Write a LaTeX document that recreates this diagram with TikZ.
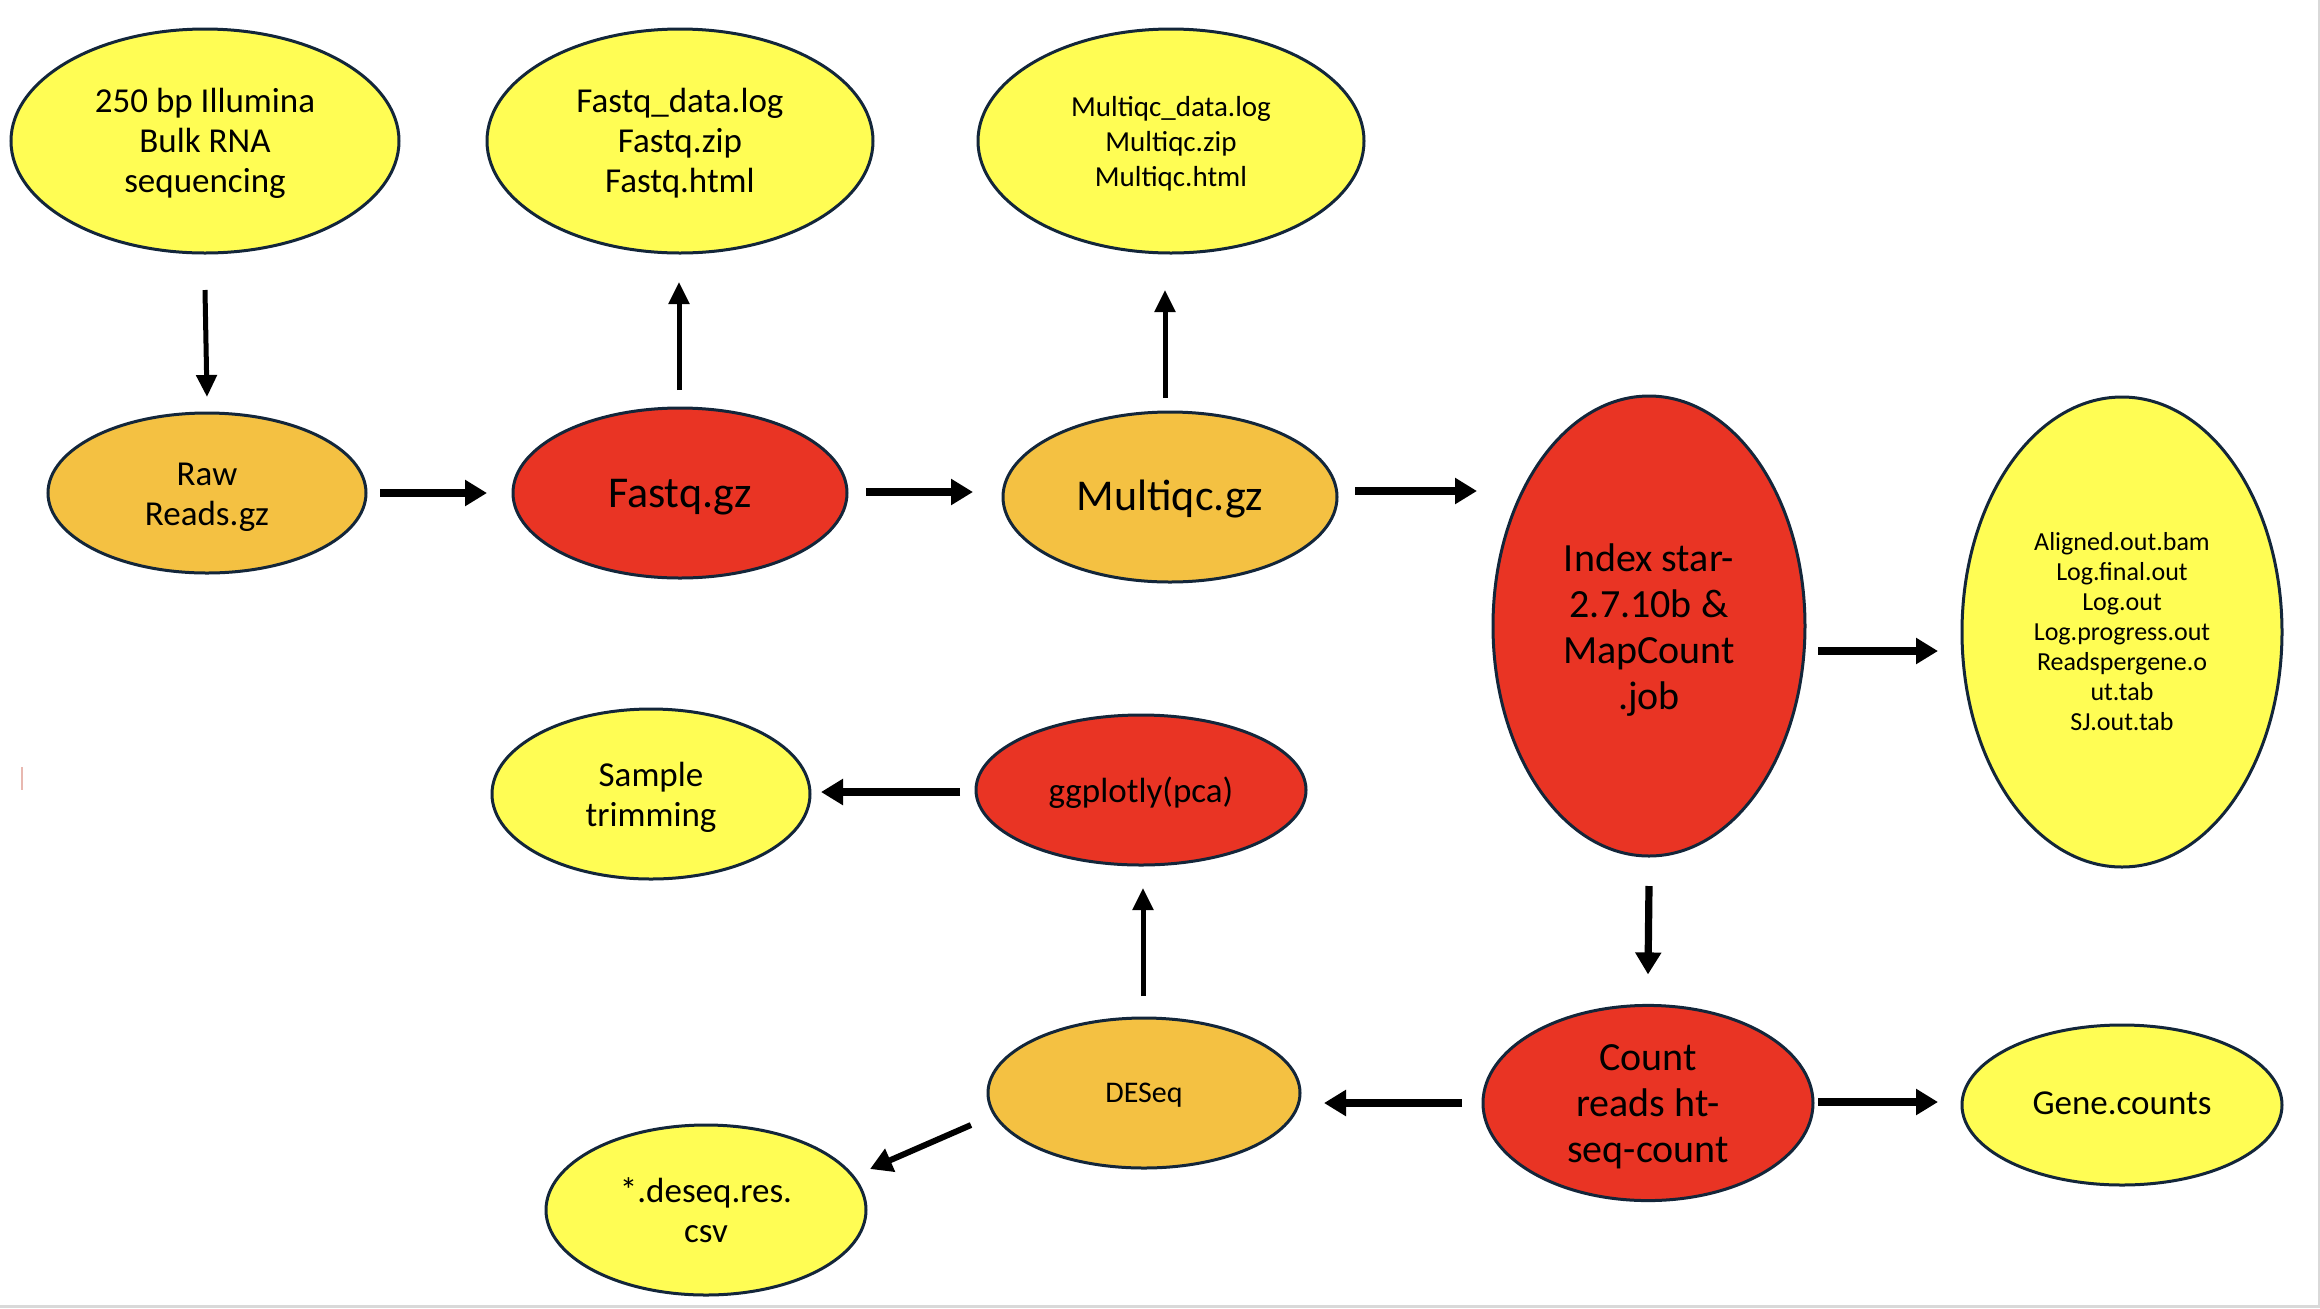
\documentclass[tikz,border=0pt]{standalone}
\usepackage{fontspec}
\setmainfont{Carlito}
\usetikzlibrary{shapes.geometric,arrows.meta}
\definecolor{cyel}{HTML}{FFFD54}
\definecolor{corg}{HTML}{F4C142}
\definecolor{cred}{HTML}{E93424}
\definecolor{cline}{HTML}{13263A}
\definecolor{cgrey}{HTML}{D9D9D9}
\definecolor{cpink}{HTML}{E8B8B0}
\newcommand\lbl[2][2pt]{\raisebox{-#1}[\height][\depth]{\begin{tabular}{@{}c@{}}#2\end{tabular}}}
\tikzset{
  blob/.style={ellipse, draw=cline, line width=1.5pt, inner sep=0pt, outer sep=0pt, text=black},
  yel/.style={blob, fill=cyel},
  org/.style={blob, fill=corg},
  red/.style={blob, fill=cred},
  fa/.style={font=\fontsize{17.5pt}{20pt}\selectfont},
  fb/.style={font=\fontsize{22pt}{26pt}\selectfont},
  fc/.style={font=\fontsize{14.5pt}{17.5pt}\selectfont},
  fd/.style={font=\fontsize{20pt}{23pt}\selectfont},
  fe/.style={font=\fontsize{13pt}{15pt}\selectfont},
  arr/.style={line width=3.6pt, -{Triangle[length=11pt,width=12.5pt]}},
  arrthin/.style={line width=2.5pt, -{Triangle[length=11pt,width=10pt]}},
}
\begin{document}
\begin{tikzpicture}[x=0.5pt,y=-0.5pt]
\useasboundingbox (0,0) rectangle (2320,1308);
\fill[white] (0,0) rectangle (2320,1308);
% frame remnants
\fill[cgrey] (0,1305) rectangle (2320,1308);
\fill[cgrey] (2318,0) rectangle (2320,1308);
\fill[cpink] (21,767) rectangle (23,790);

% nodes
\node[yel, fa, minimum width=194pt, minimum height=112pt] (ill) at (205,141) {\lbl[1.5pt]{250 bp Illumina\\Bulk RNA\\sequencing}};
\node[yel, fa, minimum width=193pt, minimum height=112pt] (fqo) at (680,141) {\lbl[1.5pt]{Fastq\_data.log\\Fastq.zip\\Fastq.html}};
\node[yel, fc, minimum width=193pt, minimum height=112pt] (mqo) at (1171,141) {\lbl[1.5pt]{Multiqc\_data.log\\Multiqc.zip\\Multiqc.html}};
\node[org, fa, minimum width=159pt, minimum height=80pt] (raw) at (207,493) {\lbl[2.2pt]{Raw\\Reads.gz}};
\node[red, fb, minimum width=167pt, minimum height=85pt] (fq) at (680,493) {\lbl[2.2pt]{Fastq.gz}};
\node[org, fb, minimum width=167pt, minimum height=85pt] (mq) at (1170,497) {\lbl[1.5pt]{Multiqc.gz}};
\node[red, fd, minimum width=156pt, minimum height=230pt] (idx) at (1649,626) {\lbl[2.6pt]{Index star-\\2.7.10b \&\\MapCount\\.job}};
\node[yel, fe, minimum width=160pt, minimum height=235pt] (aln) at (2122,632) {\lbl[1.4pt]{Aligned.out.bam\\Log.final.out\\Log.out\\Log.progress.out\\Readspergene.o\\ut.tab\\SJ.out.tab}};
\node[yel, fa, minimum width=159pt, minimum height=85pt] (trim) at (651,794) {\lbl[2.2pt]{Sample\\trimming}};
\node[red, fa, minimum width=165pt, minimum height=75pt] (gg) at (1141,790) {\lbl[2.2pt]{ggplotly(pca)}};
\node[org, font=\fontsize{15pt}{18pt}\selectfont, minimum width=156pt, minimum height=75pt] (des) at (1144,1093) {\lbl[1pt]{DESeq}};
\node[red, fd, minimum width=165pt, minimum height=75pt] (cnt) at (1648,1103) {\lbl[2.2pt]{Count\\reads ht-\\seq-count}};
\node[yel, fa, minimum width=160pt, minimum height=80pt] (gene) at (2122,1105) {\lbl[0.8pt]{Gene.counts}};
\node[yel, fa, minimum width=160pt, minimum height=85pt] (csv) at (706,1210) {\lbl[2.2pt]{*.deseq.res.\\csv}};

% connectors
\draw[arrthin] ([yshift=-18.5pt]ill.south) -- ([yshift=8pt]raw.north);
\draw[arrthin] ([xshift=-0.5pt,yshift=9pt]fq.north) -- ([xshift=-0.5pt,yshift=-14.5pt]fqo.south);
\draw[arrthin] ([xshift=-2.5pt,yshift=7pt]mq.north) -- ([xshift=-3pt,yshift=-18.5pt]mqo.south);
\draw[arr] ([xshift=7pt]raw.east) -- ([xshift=-13pt]fq.west);
\draw[arr] ([xshift=9.5pt,yshift=0.5pt]fq.east) -- ([xshift=-15pt,yshift=0.5pt]fq.east -| mq.west);
\draw[arr] ([xshift=9pt,yshift=3pt]mq.east) -- ([xshift=-8pt,yshift=3pt]mq.east -| idx.west);
\draw[arr] ([xshift=6.5pt,yshift=-12.5pt]idx.east) -- ([xshift=-12pt,yshift=-12.5pt]idx.east -| aln.west);
\draw[arr] ([yshift=-15pt]idx.south) -- ([yshift=15.5pt]cnt.north);
\draw[arr] ([xshift=2.5pt,yshift=0.5pt]cnt.east) -- ([xshift=-12pt,yshift=0.5pt]cnt.east -| gene.west);
\draw[arr] ([xshift=-10.5pt]cnt.west) -- ([xshift=12pt]cnt.west -| des.east);
\draw[arrthin] ([xshift=-0.5pt,yshift=11pt]des.north) -- ([xshift=1pt,yshift=-11.5pt]gg.south);
\draw[arr] ([xshift=-8pt,yshift=-1pt]gg.west) -- ([xshift=5.5pt,yshift=-1pt]gg.west -| trim.east);
\draw[line width=3pt, -{Triangle[length=11pt,width=12pt]}] ([shift={(-86.5pt,-16pt)}]des.center) -- ([shift={(82pt,20.5pt)}]csv.center);
\end{tikzpicture}
\end{document}
